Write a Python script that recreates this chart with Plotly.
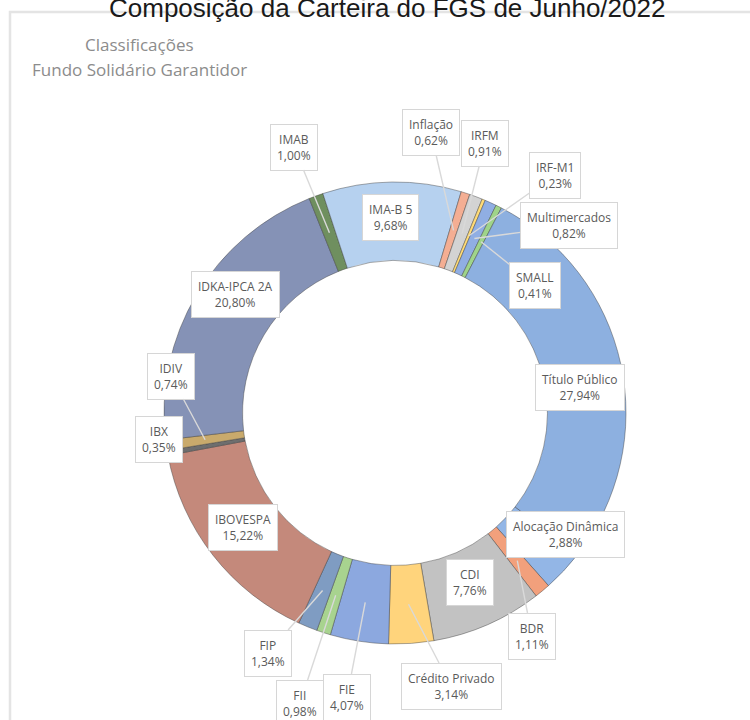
import math
import plotly.graph_objects as go

# Portfolio composition by benchmark classification (percent of the fund)
categories = [
    "Alocação Dinâmica", "BDR", "CDI", "Crédito Privado", "FIE", "FII", "FIP",
    "IBOVESPA", "IBX", "IDIV", "IDKA-IPCA 2A", "IMAB", "IMA-B 5", "Inflação",
    "IRFM", "IRF-M1", "Multimercados", "SMALL", "Título Público",
]
shares = [
    2.88, 1.11, 7.76, 3.14, 4.07, 0.98, 1.34,
    15.22, 0.35, 0.74, 20.80, 1.00, 9.68, 0.62,
    0.91, 0.23, 0.82, 0.41, 27.94,
]
slice_colors = [
    "#93b6e6", "#f2a07c", "#c2c2c2", "#ffd47c", "#8ca8df", "#a8d38f", "#7f9cc2",
    "#c4897b", "#6e6e6e", "#c9aa6c", "#8592b6", "#6f8f5f", "#b6d1ef", "#f4ae93",
    "#d3d3d3", "#ffdb77", "#90aee3", "#9fd48a", "#8db0e0",
]

# Label box centres (px from the top-left of the page) and leader-line flag
label_boxes = {
    "Alocação Dinâmica": (565, 534, False),
    "BDR": (532, 636, True),
    "CDI": (470, 582, False),
    "Crédito Privado": (451, 686, True),
    "FIE": (347, 697, True),
    "FII": (300, 703, True),
    "FIP": (268, 653, True),
    "IBOVESPA": (243, 527, False),
    "IBX": (159, 439, False),
    "IDIV": (171, 376, True),
    "IDKA-IPCA 2A": (235, 294, False),
    "IMAB": (294, 147, True),
    "IMA-B 5": (390, 217, False),
    "Inflação": (431, 133, True),
    "IRFM": (485, 143, True),
    "IRF-M1": (555, 175, True),
    "Multimercados": (569, 226, True),
    "SMALL": (535, 285, True),
    "Título Público": (580, 387, False),
}

W, H = 750, 720
CX, CY, R = 395, 413, 231      # donut centre and outer radius (px)
HOLE = 0.66
START = 128                    # first slice starts this many degrees clockwise from 12 o'clock


def to_paper(px, py):
    return px / W, 1 - py / H


fig = go.Figure()
fig.add_trace(go.Pie(
    labels=categories,
    values=shares,
    sort=False,
    direction="clockwise",
    rotation=START,
    hole=HOLE,
    marker=dict(colors=slice_colors, line=dict(color="rgba(60,60,60,0.55)", width=0.8)),
    textinfo="none",
    hoverinfo="skip",
    showlegend=False,
    domain=dict(x=[(CX - R) / W, (CX + R) / W], y=[1 - (CY + R) / H, 1 - (CY - R) / H]),
))

total = sum(shares)
anchor_r = R * (1 + HOLE) / 2
cum = 0.0
annotations = []
for name, val in zip(categories, shares):
    mid = cum + val / 2
    cum += val
    ang = math.radians(START + 360 * mid / total)
    px = CX + anchor_r * math.sin(ang)
    py = CY - anchor_r * math.cos(ang)
    bx, by, leader = label_boxes[name]
    text = f"{name}<br>{val:.2f}".replace(".", ",") + "%"
    common = dict(
        text=text, xref="paper", yref="paper",
        font=dict(family="Open Sans", size=12, color="#5a5a5a"),
        bgcolor="white", bordercolor="#d6d6d6", borderwidth=1, borderpad=6,
        align="center",
    )
    if leader:
        ax_, ay_ = to_paper(px, py)
        annotations.append(dict(
            x=ax_, y=ay_, ax=bx - px, ay=by - py, axref="pixel", ayref="pixel",
            showarrow=True, arrowhead=0, arrowwidth=1.4, arrowcolor="#d9d9d9",
            standoff=0, startstandoff=0, **common,
        ))
    else:
        x_, y_ = to_paper(bx, by)
        annotations.append(dict(x=x_, y=y_, xanchor="center", yanchor="middle",
                                showarrow=False, **common))

# Chart heading and inner titles
annotations.append(dict(
    text="Composição da Carteira do FGS de Junho/2022",
    x=387 / W, y=1 - 8 / H, xref="paper", yref="paper",
    xanchor="center", yanchor="middle", showarrow=False,
    font=dict(family="Liberation Sans, Arial", size=26, color="#1a1a1a"),
))
for txt, ty in [("Classificações", 44), ("Fundo Solidário Garantidor", 70)]:
    annotations.append(dict(
        text=txt, x=139 / W, y=1 - ty / H, xref="paper", yref="paper",
        xanchor="center", yanchor="middle", showarrow=False,
        font=dict(family="Open Sans", size=17, color="#8c8c8c"),
    ))

fig.update_layout(
    width=W, height=H,
    margin=dict(l=0, r=0, t=0, b=0),
    paper_bgcolor="white", plot_bgcolor="white",
    annotations=annotations,
    shapes=[dict(
        type="rect", xref="paper", yref="paper",
        x0=10 / W, y0=1 - 12 / H, x1=1.05, y1=-0.05,
        line=dict(color="#e4e4e4", width=2.5), layer="below",
    )],
)

fig.write_html("out.html")
